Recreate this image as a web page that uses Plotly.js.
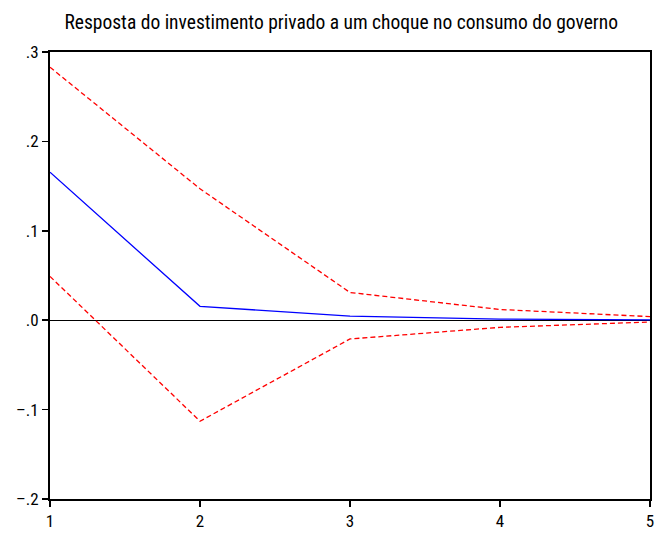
<!DOCTYPE html>
<html>
<head>
<meta charset="utf-8">
<script src="https://cdn.plot.ly/plotly-3.0.1.min.js"></script>
<style>html,body{margin:0;padding:0;background:#fff;}#chart{width:655px;height:533px;}</style>
</head>
<body>
<div id="chart"></div>
<script>
const periods = [1, 2, 3, 4, 5];
const response = [0.1655, 0.0155, 0.0045, 0.0012, 0.0003];
const upperBand = [0.283, 0.147, 0.031, 0.012, 0.004];
const lowerBand = [0.049, -0.113, -0.021, -0.008, -0.002];
const yTickVals = [0.3, 0.2, 0.1, 0.0, -0.1, -0.2];
const yTickText = ['.3', '.2', '.1', '.0', '–.1', '–.2'];
const xTickVals = [1, 2, 3, 4, 5];
const titleText = 'Resposta do investimento privado a um choque no consumo do governo';

const font = '"Liberation Sans Narrow", "Roboto Condensed", "DejaVu Sans Condensed", sans-serif';

const traces = [
  {x: periods, y: upperBand, mode: 'lines', line: {color: '#ff0000', width: 1.3, dash: '5px,3px'}, hoverinfo: 'skip'},
  {x: periods, y: lowerBand, mode: 'lines', line: {color: '#ff0000', width: 1.3, dash: '5px,3px'}, hoverinfo: 'skip'},
  {x: periods, y: response, mode: 'lines', line: {color: '#0000ff', width: 1.3}, hoverinfo: 'skip'}
];

const layout = {
  width: 655, height: 533,
  margin: {l: 50, r: 5, t: 52, b: 34},
  paper_bgcolor: '#fff', plot_bgcolor: '#fff',
  showlegend: false,
  font: {family: font, color: '#000', size: 15},
  title: {text: titleText, x: 0.521, xanchor: 'center', y: 0.958, yanchor: 'middle', font: {family: font, size: 19.5, color: '#000'}},
  xaxis: {
    range: [1, 5], tickvals: xTickVals, ticktext: xTickVals.map(String),
    ticks: 'outside', ticklen: 6, tickwidth: 1.5, tickcolor: '#000',
    showline: true, linecolor: '#000', linewidth: 2, mirror: true,
    showgrid: false, zeroline: false, fixedrange: true,
    tickfont: {family: font, size: 17, color: '#000'}
  },
  yaxis: {
    range: [-0.2, 0.3], tickvals: yTickVals, ticktext: yTickText,
    ticks: 'outside', ticklen: 6, tickwidth: 1.5, tickcolor: '#000',
    showline: true, linecolor: '#000', linewidth: 2, mirror: true,
    showgrid: false, zeroline: true, zerolinecolor: '#000', zerolinewidth: 1.3,
    fixedrange: true,
    tickfont: {family: font, size: 17, color: '#000'}
  }
};

Plotly.newPlot('chart', traces, layout, {displayModeBar: false, staticPlot: true});
</script>
</body>
</html>
